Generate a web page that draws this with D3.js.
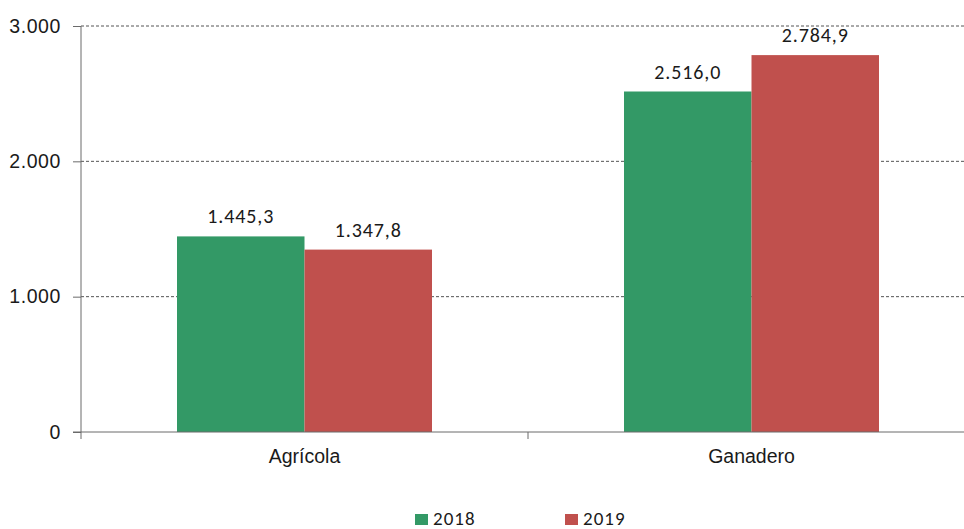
<!DOCTYPE html>
<html>
<head>
<meta charset="utf-8">
<script src="https://cdn.jsdelivr.net/npm/d3@7"></script>
<style>
  body { margin: 0; background: #fff; }
  svg { display: block; font-family: Carlito, "Open Sans", "Liberation Sans", sans-serif; }
</style>
</head>
<body>
<div id="chart"></div>
<script>
const categories = ['Agrícola', 'Ganadero'];
const seriesNames = ['2018', '2019'];
const values2018 = [1445.3, 2516.0];
const values2019 = [1347.8, 2784.9];
const yTicks = [0, 1000, 2000, 3000];
const colors = ['#339966', '#c0504d'];

const width = 964;
const height = 529;
const margin = { top: 26, right: -11, bottom: 97, left: 81 };

// Spanish number format: thousands '.', decimal ','
const locale = d3.formatLocale({ decimal: ',', thousands: '.', grouping: [3], currency: ['', '€'] });
const fmtTick = locale.format(',.0f');
const fmtValue = locale.format(',.1f');

const rows = categories.map((c, i) => ({ category: c, values: [values2018[i], values2019[i]] }));

const svg = d3.select('#chart')
  .append('svg')
  .attr('width', width)
  .attr('height', height);

const x0 = d3.scaleBand()
  .domain(categories)
  .range([margin.left, width - margin.right]);

const x1 = d3.scaleBand()
  .domain(seriesNames)
  .range([0, x0.bandwidth()])
  .paddingOuter(0.753);

const y = d3.scaleLinear()
  .domain([0, 3000])
  .range([height - margin.bottom, margin.top]);

// Dashed gridlines
svg.append('g')
  .selectAll('line')
  .data(yTicks.filter((d) => d > 0))
  .join('line')
  .attr('x1', margin.left)
  .attr('x2', width)
  .attr('y1', (d) => y(d))
  .attr('y2', (d) => y(d))
  .attr('stroke', '#555')
  .attr('stroke-width', 1)
  .attr('stroke-dasharray', '3,2');

// Bars
const group = svg.append('g')
  .selectAll('g')
  .data(rows)
  .join('g')
  .attr('transform', (d) => `translate(${x0(d.category)},0)`);

group.selectAll('rect')
  .data((d) => d.values.map((v, i) => ({ key: seriesNames[i], value: v, i })))
  .join('rect')
  .attr('x', (d) => x1(d.key))
  .attr('width', x1.bandwidth())
  .attr('y', (d) => y(d.value))
  .attr('height', (d) => y(0) - y(d.value))
  .attr('fill', (d) => colors[d.i]);

group.selectAll('text')
  .data((d) => d.values.map((v, i) => ({ key: seriesNames[i], value: v })))
  .join('text')
  .attr('x', (d) => x1(d.key) + x1.bandwidth() / 2)
  .attr('y', (d) => y(d.value) - 13)
  .attr('text-anchor', 'middle')
  .attr('font-size', 20)
  .attr('letter-spacing', 0.9)
  .attr('fill', '#1a1a1a')
  .text((d) => fmtValue(d.value));

// Y axis
const yAxis = svg.append('g')
  .attr('transform', `translate(${margin.left},0)`)
  .call(d3.axisLeft(y).tickValues(yTicks).tickFormat(fmtTick).tickSize(8).tickPadding(12));
yAxis.select('.domain').attr('stroke', '#6b6b6b').attr('d', `M0,${y(0) + 7}V${margin.top}`);
yAxis.selectAll('.tick line').attr('stroke', '#6b6b6b');
yAxis.selectAll('.tick text')
  .attr('font-size', 19.5)
  .attr('letter-spacing', 0.6)
  .attr('fill', '#1a1a1a')
  .attr('font-family', null);

// X axis
const xAxis = svg.append('g')
  .attr('transform', `translate(0,${y(0)})`)
  .call(d3.axisBottom(x0).tickSize(0).tickPadding(17));
xAxis.select('.domain').attr('stroke', '#6b6b6b').attr('d', `M${margin.left - 8},0H${width}`);
xAxis.selectAll('.tick text')
  .attr('font-size', 19.5)
  .attr('fill', '#1a1a1a')
  .attr('font-family', null);
xAxis.append('line')
  .attr('x1', x0('Ganadero')).attr('x2', x0('Ganadero'))
  .attr('y1', 0).attr('y2', 7)
  .attr('stroke', '#6b6b6b');

// Legend (kept just inside the bottom edge)
const legendX = [415, 565];
const legend = svg.append('g')
  .selectAll('g')
  .data(seriesNames)
  .join('g')
  .attr('transform', (d, i) => `translate(${legendX[i]},514)`);
legend.append('rect')
  .attr('width', 13)
  .attr('height', 11)
  .attr('fill', (d, i) => colors[i]);
legend.append('text')
  .attr('x', 18)
  .attr('y', 11)
  .attr('font-size', 19)
  .attr('letter-spacing', 1)
  .attr('fill', '#1a1a1a')
  .text((d) => d);
</script>
</body>
</html>
